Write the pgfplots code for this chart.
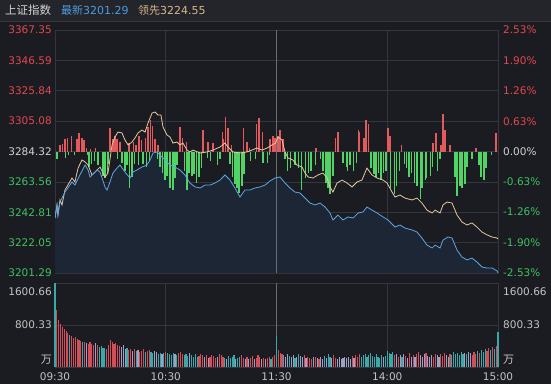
\documentclass[border=0pt]{standalone}
\usepackage{pgfplots}
\pgfplotsset{compat=1.18}
\usepackage{pgfplotstable}
\usepackage{fontspec}
\setmainfont{DejaVu Sans}
\newfontfamily\cjk{Noto Sans CJK SC}
\definecolor{bg}{HTML}{1B1C21}
\definecolor{hdr}{HTML}{24252A}
\definecolor{gridc}{HTML}{34363D}
\definecolor{midc}{HTML}{6A6C74}
\definecolor{cr}{HTML}{E0484E}
\definecolor{cg}{HTML}{3FC162}
\definecolor{cw}{HTML}{D2D2D2}
\definecolor{lab}{HTML}{C4C4C4}
\definecolor{blueT}{HTML}{4A9BE0}
\definecolor{tanT}{HTML}{D8B489}
\definecolor{yline}{HTML}{E6C7A0}
\definecolor{bline}{HTML}{5AA6E6}
\definecolor{areac}{HTML}{1D2634}
\definecolor{redb}{HTML}{E25A5C}
\definecolor{greenb}{HTML}{4FD465}
\definecolor{vr}{HTML}{D24E58}
\definecolor{vc}{HTML}{3BA8AA}
\definecolor{vl}{HTML}{9EA0C8}

\pgfplotstableread{
m p
0 3238.9
1.1 3247.8
1.6 3240.9
2.7 3251.2
3.8 3247.8
5.4 3258.0
7.0 3261.4
9.2 3266.2
10.8 3263.5
12.5 3273.0
14.6 3278.5
16.3 3277.2
17.9 3275.1
20.0 3268.3
21.7 3270.3
24.4 3273.7
27.1 3266.9
28.7 3269.6
30.9 3288.8
32.5 3294.2
34.1 3297.6
36.3 3297.0
37.9 3292.2
39.6 3288.8
41.7 3290.8
43.3 3293.5
45.0 3297.0
47.1 3299.0
48.8 3297.6
50.4 3303.8
52.6 3310.6
54.2 3311.3
55.8 3309.3
57.4 3309.3
58.5 3301.1
60.7 3295.6
62.3 3294.2
63.9 3290.1
66.1 3290.8
67.7 3288.8
69.3 3290.1
71.5 3285.3
73.1 3284.0
74.8 3285.3
78.6 3283.3
82.4 3284.0
85.6 3285.3
89.4 3287.4
92.1 3290.1
93.7 3287.4
96.4 3284.0
100.2 3283.3
104.0 3284.0
106.7 3285.3
109.4 3286.7
112.2 3285.3
114.9 3286.7
117.6 3288.8
119.5 3290.1
120.8 3294.2
123.0 3292.2
124.6 3284.0
126.2 3279.9
128.9 3278.5
131.1 3275.1
133.8 3273.7
135.5 3269.6
137.1 3266.9
139.8 3266.2
142.5 3268.3
145.2 3269.6
147.4 3266.2
149.0 3260.1
150.6 3256.6
152.8 3262.8
155.5 3264.8
158.2 3262.8
160.9 3260.1
163.6 3263.5
166.3 3264.8
169.0 3273.0
171.7 3268.3
174.5 3266.2
177.7 3264.8
179.9 3262.8
182.6 3256.6
184.2 3253.2
186.9 3254.6
189.6 3252.5
193.4 3251.2
196.1 3252.5
198.8 3249.1
201.5 3244.3
204.3 3242.3
205.9 3244.3
208.6 3242.3
210.2 3247.8
212.4 3249.8
215.1 3249.1
217.8 3240.9
220.5 3236.1
223.2 3234.1
225.9 3235.5
228.6 3232.7
231.3 3229.3
234.1 3227.3
236.8 3225.9
239.5 3225.2
240 3224.55
}\yellowdata

\pgfplotstableread{
m p
0 3238.9
1.1 3247.8
1.6 3240.9
2.7 3249.8
5.4 3256.6
7.0 3259.4
9.2 3263.5
10.8 3261.4
13.5 3268.3
16.3 3275.1
17.9 3271.7
19.0 3266.9
21.7 3270.3
22.8 3271.7
24.4 3270.3
27.1 3260.1
28.2 3258.0
29.8 3263.5
31.4 3269.6
33.6 3273.0
35.2 3275.1
37.9 3270.3
40.6 3266.2
42.3 3270.3
44.4 3271.7
47.1 3273.7
49.8 3275.1
51.5 3278.5
53.1 3283.3
55.3 3284.0
56.9 3281.9
59.6 3278.5
62.3 3275.1
65.0 3273.7
67.7 3271.7
70.4 3268.3
73.1 3262.8
75.9 3260.1
78.6 3259.4
81.3 3261.4
84.0 3261.4
86.7 3262.8
89.4 3264.8
92.1 3268.3
94.8 3264.8
97.5 3259.4
100.2 3253.2
102.9 3258.0
105.6 3258.0
108.4 3259.4
111.1 3260.1
113.8 3261.4
116.5 3264.2
119.2 3266.2
121.9 3266.9
124.6 3262.8
127.3 3259.4
130.0 3256.6
132.7 3256.0
135.5 3252.5
138.2 3249.1
140.9 3247.8
143.6 3249.1
146.3 3246.4
149.0 3242.3
150.6 3237.5
153.3 3240.9
156.0 3237.5
158.7 3239.6
161.5 3238.9
164.2 3242.3
166.9 3243.0
169.0 3246.4
171.7 3244.3
174.5 3242.3
177.7 3239.6
180.4 3237.5
181.5 3236.1
184.2 3232.7
186.9 3234.1
189.6 3232.0
193.4 3230.7
196.1 3229.3
198.8 3225.2
201.5 3220.4
204.3 3218.4
205.9 3220.4
208.6 3218.4
210.2 3223.8
212.9 3225.9
215.1 3225.2
217.8 3217.0
220.5 3212.2
223.2 3210.2
225.9 3211.5
228.6 3208.8
231.3 3205.4
234.1 3204.7
236.8 3204.7
239.5 3202.7
240 3201.29
}\bluedata

\pgfplotstableread{
m v
2.7 0.13
4.3 0.15
5.4 0.27
7.0 0.29
8.7 0.33
11.9 0.27
13.0 0.38
14.6 0.29
15.7 0.23
17.3 0.08
19.0 0.06
21.7 0.08
29.8 0.48
31.4 0.27
32.5 0.33
33.6 0.27
35.2 0.19
40.1 0.17
42.3 0.19
43.9 0.13
45.5 0.33
47.1 0.23
48.8 0.29
50.4 0.50
51.5 0.65
52.6 0.54
54.2 0.27
55.8 0.13
67.7 0.50
69.3 0.29
71.0 0.19
80.2 0.44
82.9 0.19
85.6 0.17
90.5 0.40
91.4 0.27
92.6 0.71
93.7 0.48
95.4 0.13
101.9 0.48
104.0 0.19
105.6 0.08
109.4 0.58
110.5 0.69
112.2 0.40
116.5 0.27
118.1 0.33
119.2 0.29
120.8 0.33
121.9 0.44
123.5 0.27
141.4 0.08
152.2 0.29
153.3 0.40
164.2 0.44
165.2 0.40
167.4 0.29
168.5 0.65
169.6 0.58
180.4 0.48
181.5 0.33
187.5 0.13
204.8 0.17
206.4 0.38
209.1 0.13
210.2 0.79
211.3 0.44
214.0 0.13
228.1 0.08
238.9 0.38
}\redbars

\pgfplotstableread{
m v
1.1 -0.15
5.9 -0.13
7.5 -0.08
10.8 -0.08
17.8 -0.08
18.4 -0.33
20.0 -0.25
21.2 -0.19
23.3 -0.29
25.5 -0.35
26.0 -0.50
27.1 -0.56
28.2 -0.44
28.7 -0.25
34.1 -0.15
36.3 -0.23
37.9 -0.40
39.0 -0.29
40.6 -0.75
41.7 -0.54
43.3 -0.25
45.0 -0.29
47.7 -0.25
49.8 -0.33
51.0 -0.19
55.3 -0.15
56.9 -0.33
58.0 -0.44
59.6 -0.60
60.7 -0.50
62.3 -0.77
63.9 -0.81
65.0 -0.56
66.1 -0.29
70.4 -0.40
71.5 -0.81
72.6 -0.44
74.2 -0.50
75.3 -0.46
76.9 -0.65
78.0 -0.54
79.6 -0.35
82.4 -0.13
84.0 -0.19
87.8 -0.29
89.4 -0.15
94.8 -0.25
96.4 -0.54
97.5 -0.67
98.6 -0.77
99.7 -0.86
101.3 -0.71
102.4 -0.46
106.1 -0.19
108.4 -0.15
112.7 -0.23
114.9 -0.23
116.0 -0.08
124.6 -0.15
126.2 -0.40
127.8 -0.35
130.0 -0.29
131.7 -0.35
133.3 -0.81
135.5 -0.56
137.1 -0.44
138.7 -0.40
140.9 -0.29
143.6 -0.15
145.2 -0.40
146.8 -0.65
147.9 -0.77
149.0 -0.88
150.6 -0.50
156.0 -0.23
157.7 -0.33
158.7 -0.40
159.8 -0.29
161.5 -0.40
163.1 -0.23
171.2 -0.35
172.8 -0.46
173.9 -0.54
175.5 -0.44
176.6 -0.60
178.2 -0.44
179.3 -0.40
182.0 -0.77
183.7 -0.88
184.8 -0.71
186.4 -0.40
189.1 -0.25
190.2 -0.35
191.8 -0.54
192.9 -0.44
195.0 -0.65
196.1 -0.71
197.8 -0.98
198.8 -0.75
200.5 -0.60
201.5 -0.56
203.2 -0.50
204.3 -0.33
207.0 -0.40
208.6 -0.15
216.7 -0.54
217.8 -0.92
219.4 -0.71
220.5 -0.75
222.1 -0.67
223.2 -0.33
225.9 -0.15
229.7 -0.29
230.8 -0.54
232.4 -0.60
233.5 -0.35
236.3 -0.08
}\greenbars

\pgfplotstableread{
m v
1 1090
2 900
3 820
4 760
5 720
6 690
7 640
9 600
10 560
11 580
12 540
13 520
14 500
16 480
18 440
19 470
20 430
21 420
23 410
28 340
29 420
30 520
31 470
32 440
33 450
34 410
35 400
40 330
41 340
43 350
46 290
47 300
48 340
50 300
51 320
60 290
67 260
68 280
69 240
78 210
79 250
80 230
82 220
84 190
85 230
86 210
87 170
89 240
90 220
91 200
101 220
102 170
104 190
106 180
107 210
109 170
110 230
111 190
113 180
115 170
116 200
118 190
119 230
121 330
122 270
123 250
135 230
137 200
138 170
139 160
141 200
143 150
151 220
152 180
161 210
163 230
164 200
165 240
184 220
186 200
190 210
192 260
194 230
196 250
197 280
201 260
205 200
206 250
209 240
210 210
211 270
214 250
226 230
227 280
228 250
230 270
234 300
235 360
237 380
239 400
}\volr

\pgfplotstableread{
m v
0 1600
8 610
15 470
24 380
25 400
26 360
27 370
39 360
44 300
49 280
52 290
53 270
56 250
57 260
59 270
61 260
62 250
63 230
64 270
66 220
70 230
71 250
72 210
74 220
75 200
76 240
77 190
92 180
94 210
95 170
96 190
97 230
99 180
100 200
117 160
120 600
124 230
127 210
130 180
132 250
146 210
148 240
149 200
166 190
167 220
168 250
169 200
170 230
171 260
172 210
173 190
174 240
175 200
176 180
177 220
179 210
180 310
181 270
182 240
183 290
188 190
215 220
216 280
217 240
218 260
219 230
220 290
221 250
223 240
229 300
231 320
232 290
233 340
236 330
238 350
240 670
}\volc

\pgfplotstableread{
m v
17 460
22 450
36 380
37 420
38 350
42 310
45 320
54 300
55 280
58 240
65 240
73 270
81 200
83 180
88 190
93 160
98 160
103 150
105 160
108 150
112 160
114 150
125 200
126 240
128 190
129 220
131 200
133 210
134 190
136 180
140 190
142 170
144 190
145 160
147 180
150 170
153 160
154 190
155 150
156 180
157 200
158 170
159 190
160 160
162 180
178 190
185 250
187 230
189 240
191 180
193 200
195 190
198 220
199 200
200 240
202 210
203 190
204 230
207 220
208 190
212 230
213 200
222 270
224 290
225 260
}\voll

\tikzset{labf/.style={font=\fontsize{10.5}{12}\selectfont}}
\pgfplotsset{
  base/.style={scale only axis, anchor=south west, xmin=0, xmax=240,
    major tick length=0pt, tick style={draw=none}},
}

\begin{document}
\begin{tikzpicture}
\fill[bg] (0pt,0pt) rectangle (551pt,384pt);
\fill[hdr] (0pt,363pt) rectangle (551pt,384pt);
\draw[gridc, line width=0.5pt] (0pt,363pt) -- (551pt,363pt);

% price panel: grid, area, left labels
\begin{axis}[base, at={(55pt,111pt)}, width=443pt, height=243pt,
  ymin=3201.29, ymax=3367.35,
  xtick={60,120,180}, xticklabels={},
  ytick={3201.29,3222.05,3242.81,3263.56,3284.32,3305.08,3325.84,3346.59,3367.35},
  yticklabels={\textcolor{cg}{3201.29},\textcolor{cg}{3222.05},\textcolor{cg}{3242.81},\textcolor{cg}{3263.56},\textcolor{cw}{3284.32},\textcolor{cr}{3305.08},\textcolor{cr}{3325.84},\textcolor{cr}{3346.59},\textcolor{cr}{3367.35}},
  yticklabel style={labf, inner sep=0pt, anchor=east, xshift=-3pt},
  grid=major, major grid style={draw=gridc, line width=0.6pt},
  axis line style={draw=gridc, line width=0.6pt}]
\addplot[fill=areac, draw=none] table[x=m,y=p] {\bluedata} \closedcycle;
\draw[midc, line width=0.9pt] (axis cs:120,3201.29) -- (axis cs:120,3367.35);
\end{axis}

% percent overlay: bars and right labels
\begin{axis}[base, at={(55pt,111pt)}, width=443pt, height=243pt,
  ymin=-2.53, ymax=2.53, axis x line=none, axis y line*=right,
  axis line style={draw=gridc, line width=0.6pt},
  ytick={-2.53,-1.90,-1.26,-0.63,0,0.63,1.26,1.90,2.53},
  yticklabels={\textcolor{cg}{-2.53\%},\textcolor{cg}{-1.90\%},\textcolor{cg}{-1.26\%},\textcolor{cg}{-0.63\%},\textcolor{cw}{0.00\%},\textcolor{cr}{0.63\%},\textcolor{cr}{1.26\%},\textcolor{cr}{1.90\%},\textcolor{cr}{2.53\%}},
  yticklabel style={labf, inner sep=0pt, anchor=west, xshift=5pt}]
\addplot[ycomb, draw=redb, line width=1.1pt] table[x=m,y=v] {\redbars};
\addplot[ycomb, draw=greenb, line width=1.1pt] table[x=m,y=v] {\greenbars};
\end{axis}

% price lines
\begin{axis}[base, at={(55pt,111pt)}, width=443pt, height=243pt,
  ymin=3201.29, ymax=3367.35, hide axis]
\addplot[yline, line width=0.8pt] table[x=m,y=p] {\yellowdata};
\addplot[bline, line width=0.8pt] table[x=m,y=p] {\bluedata};
\end{axis}

% volume panel
\begin{axis}[base, at={(55pt,17pt)}, width=443pt, height=84pt,
  ymin=0, ymax=1600.66, clip=false,
  xtick={0,60,120,180,240}, xticklabels={09:30,10:30,11:30,14:00,15:00},
  xticklabel style={labf, text=lab, inner sep=0pt, anchor=north, yshift=-6pt},
  ytick={0,800.33,1600.66}, yticklabels={},
  grid=major, major grid style={draw=gridc, line width=0.6pt},
  axis line style={draw=gridc, line width=0.6pt}]
\draw[midc, line width=0.9pt] (axis cs:120,0) -- (axis cs:120,1600.66);
\addplot[ycomb, draw=vr, line width=1.15pt] table[x=m,y=v] {\volr};
\addplot[ycomb, draw=vc, line width=1.15pt] table[x=m,y=v] {\volc};
\addplot[ycomb, draw=vl, line width=1.15pt] table[x=m,y=v] {\voll};
\end{axis}

% volume labels
\node[labf, text=lab, anchor=east, inner sep=0pt] at (52pt,92pt) {1600.66};
\node[labf, text=lab, anchor=east, inner sep=0pt] at (52pt,59pt) {800.33};
\node[text=lab, anchor=east, inner sep=0pt, font=\cjk\fontsize{11}{12}\selectfont] at (52pt,24pt) {万};
\node[labf, text=lab, anchor=west, inner sep=0pt] at (503pt,92pt) {1600.66};
\node[labf, text=lab, anchor=west, inner sep=0pt] at (503pt,59pt) {800.33};
\node[text=lab, anchor=west, inner sep=0pt, font=\cjk\fontsize{11}{12}\selectfont] at (503pt,24pt) {万};

% header
\node[anchor=west, inner sep=0pt, text=cw, font=\cjk\fontsize{11.5}{13}\selectfont] at (5pt,373.5pt) {上证指数};
\node[anchor=west, inner sep=0pt, text=blueT, font=\fontsize{11}{13}\selectfont] at (61pt,373.5pt) {{\cjk 最新}3201.29};
\node[anchor=west, inner sep=0pt, text=tanT, font=\fontsize{11}{13}\selectfont] at (138pt,373.5pt) {{\cjk 领先}3224.55};
\pgfresetboundingbox
\useasboundingbox (0pt,0pt) rectangle (551pt,384pt);
\end{tikzpicture}
\end{document}
